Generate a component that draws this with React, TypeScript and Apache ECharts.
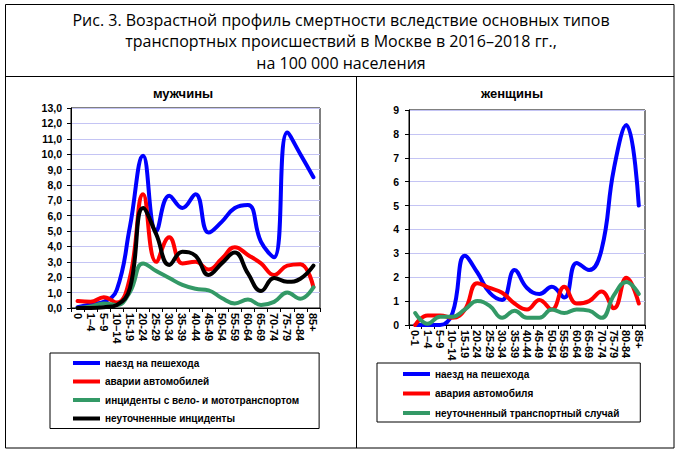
import React, { useEffect, useRef } from "react";
import * as echarts from "echarts";

const catsMen = ["0", "1–4", "5–9", "10–14", "15-19", "20-24", "25-29", "30-34", "35-39", "40-44", "45-49", "50-54", "55-59", "60-64", "65-69", "70-74", "75-79", "80-84", "85+"];
const catsWomen = ["0-1", "1–4", "5–9", "10–14", "15-19", "20-24", "25-29", "30-34", "35-39", "40-44", "45-49", "50-54", "55-59", "60-64", "65-69", "70-74", "75-79", "80-84", "85+"];

const menPedestrian = [0.05, 0.25, 0.4, 1.2, 5.3, 9.9, 5.0, 7.3, 6.5, 7.4, 4.9, 5.6, 6.5, 6.7, 4.3, 3.3, 11.4, 10.0, 8.5];
const menCar = [0.45, 0.4, 0.7, 0.35, 2.0, 7.4, 3.0, 4.6, 2.9, 3.0, 2.5, 3.2, 3.95, 3.45, 2.9, 2.15, 2.75, 2.85, 1.35];
const menBike = [0.0, 0.1, 0.3, 0.2, 1.05, 2.9, 2.4, 1.95, 1.5, 1.25, 1.15, 0.65, 0.3, 0.55, 0.2, 0.4, 1.0, 0.6, 1.35];
const menUnspecified = [0.0, 0.0, 0.05, 0.2, 1.3, 6.5, 4.8, 2.8, 3.65, 3.4, 2.15, 2.9, 3.6, 2.25, 1.1, 1.95, 1.7, 1.9, 2.75];

const womenPedestrian = [0.0, 0.0, 0.0, 0.5, 2.9, 2.2, 1.35, 1.05, 2.3, 1.55, 1.3, 1.6, 1.15, 2.6, 2.3, 3.15, 6.55, 8.37, 5.0];
const womenCar = [0.0, 0.4, 0.4, 0.3, 0.65, 1.75, 1.55, 1.35, 0.9, 0.65, 1.05, 0.65, 1.6, 0.9, 1.0, 1.4, 0.7, 1.98, 0.9];
const womenUnspecified = [0.5, 0.05, 0.35, 0.35, 0.65, 1.0, 0.8, 0.3, 0.6, 0.3, 0.3, 0.65, 0.5, 0.65, 0.6, 0.3, 1.25, 1.8, 1.3];

const menNames = ["наезд на пешехода", "аварии автомобилей", "инциденты с вело- и мототранспортом", "неуточненные инциденты"];
const womenNames = ["наезд на пешехода", "авария автомобиля", "неуточненный транспортный случай"];

const titleLines = [
  "Рис. 3. Возрастной профиль смертности вследствие основных типов",
  "транспортных происшествий в Москве в 2016–2018 гг.,",
  "на 100 000 населения",
];

const BLUE = "#0000ff";
const RED = "#ff0000";
const GREEN = "#339966";
const BLACK = "#000000";
const GRIDLINE = "#c4c4f4";
const AX_FONT = "'Liberation Sans', Arial, sans-serif";

function lineSeries(name: string, data: number[], color: string, idx: number) {
  return {
    type: "line",
    name,
    data,
    xAxisIndex: idx,
    yAxisIndex: idx,
    smooth: 0.45,
    symbol: "none",
    lineStyle: { color, width: 4, cap: "round", join: "round" },
    itemStyle: { color },
  };
}

function xAxisDef(cats: string[], gridIndex: number) {
  return {
    type: "category",
    gridIndex,
    data: cats,
    boundaryGap: true,
    axisLine: { show: true, lineStyle: { color: "#000", width: 1 } },
    axisTick: { show: true, length: 4, lineStyle: { color: "#000" } },
    axisLabel: {
      rotate: -90,
      interval: 0,
      margin: 5,
      color: "#000",
      fontSize: 11,
      fontWeight: "bold",
      fontFamily: AX_FONT,
    },
    splitLine: { show: false },
  };
}

function yAxisDef(gridIndex: number, max: number, fmt: (v: number) => string, margin: number) {
  return {
    type: "value",
    gridIndex,
    min: 0,
    max,
    interval: 1,
    axisLine: { show: true, lineStyle: { color: "#000", width: 1 } },
    axisTick: { show: true, length: 4, lineStyle: { color: "#000" } },
    axisLabel: {
      color: "#000",
      fontSize: 10.5,
      fontWeight: "bold",
      fontFamily: AX_FONT,
      margin,
      formatter: fmt,
    },
    splitLine: { show: true, lineStyle: { color: GRIDLINE, width: 1 } },
  };
}

function textEl(text: string, x: number, y: number, font: string) {
  return {
    type: "text",
    x,
    y,
    silent: true,
    style: {
      text,
      font,
      fill: "#000",
      align: "center",
      verticalAlign: "middle",
      textAlign: "center",
      textVerticalAlign: "middle",
    },
  };
}

export default function App() {
  const ref = useRef<HTMLDivElement>(null);

  useEffect(() => {
    if (!ref.current) return;
    const chart = echarts.init(ref.current, undefined, { renderer: "svg" });

    const titleFont = "16px 'Open Sans', 'Noto Sans', sans-serif";
    const subFont = "bold 13px 'Liberation Sans', Arial, sans-serif";
    const legendText = { color: "#000", fontSize: 10, fontWeight: "bold", fontFamily: AX_FONT, lineHeight: 12 };

    const option = {
      animation: false,
      backgroundColor: "#ffffff",
      grid: [
        { left: 71, top: 108, width: 249, height: 200, show: true, borderColor: "#000", borderWidth: 1, backgroundColor: "transparent" },
        { left: 409, top: 110, width: 236, height: 215, show: true, borderColor: "#000", borderWidth: 1, backgroundColor: "transparent" },
      ],
      xAxis: [xAxisDef(catsMen, 0), xAxisDef(catsWomen, 1)],
      yAxis: [
        yAxisDef(0, 13, (v: number) => v.toFixed(1).replace(".", ","), 9),
        yAxisDef(1, 9, (v: number) => String(v), 10),
      ],
      legend: [
        {
          data: menNames,
          orient: "vertical",
          left: 50,
          top: 353,
          padding: [4, 20, 4, 23],
          itemGap: 6.5,
          itemWidth: 27,
          itemHeight: 4,
          icon: "rect",
          borderColor: "#000",
          borderWidth: 1,
          backgroundColor: "#fff",
          selectedMode: false,
          textStyle: legendText,
        },
        {
          data: womenNames,
          orient: "vertical",
          left: 377,
          top: 363,
          padding: [5, 21, 3, 26],
          itemGap: 7.5,
          itemWidth: 27,
          itemHeight: 4,
          icon: "rect",
          borderColor: "#000",
          borderWidth: 1,
          backgroundColor: "#fff",
          selectedMode: false,
          textStyle: legendText,
        },
      ],
      series: [
        lineSeries(menNames[0], menPedestrian, BLUE, 0),
        lineSeries(menNames[1], menCar, RED, 0),
        lineSeries(menNames[2], menBike, GREEN, 0),
        lineSeries(menNames[3], menUnspecified, BLACK, 0),
        lineSeries(womenNames[0], womenPedestrian, BLUE, 1),
        lineSeries(womenNames[1], womenCar, RED, 1),
        lineSeries(womenNames[2], womenUnspecified, GREEN, 1),
      ],
      graphic: [
        { type: "rect", silent: true, shape: { x: 5.5, y: 4.5, width: 668.5, height: 443.5 }, style: { fill: "none", stroke: "#000", lineWidth: 1 } },
        { type: "line", silent: true, shape: { x1: 5.5, y1: 76.5, x2: 674, y2: 76.5 }, style: { stroke: "#000", lineWidth: 1 } },
        { type: "line", silent: true, shape: { x1: 356.5, y1: 76.5, x2: 356.5, y2: 448 }, style: { stroke: "#000", lineWidth: 1 } },
        textEl(titleLines[0], 341, 19.5, titleFont),
        textEl(titleLines[1], 341, 41, titleFont),
        textEl(titleLines[2], 341, 62.5, titleFont),
        textEl("мужчины", 183, 93, subFont),
        textEl("женщины", 512, 93, subFont),
      ],
    };

    chart.setOption(option as any);
    return () => chart.dispose();
  }, []);

  return (
    <div
      ref={ref}
      style={{ position: "fixed", left: 0, top: 0, width: 680, height: 454, background: "#fff" }}
    />
  );
}
